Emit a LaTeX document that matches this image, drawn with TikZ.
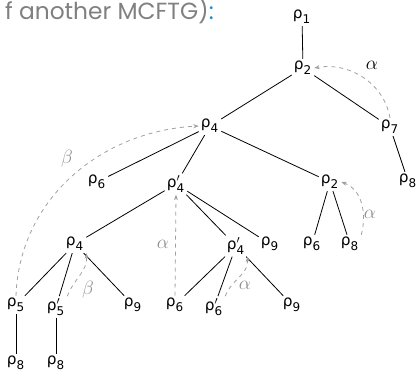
\documentclass[tikz,border=0pt]{standalone}
\usepackage{fontspec}
\setmainfont{DejaVu Sans}
\newfontfamily\headfont{Poppins}
\usetikzlibrary{arrows.meta}

\definecolor{headgray}{RGB}{128,128,128}
\definecolor{headblue}{RGB}{30,140,210}
\definecolor{arcgray}{RGB}{160,160,160}
\definecolor{labgray}{RGB}{140,140,140}

% rho with subscript, optional prime
\newcommand{\rh}[2][]{$\mbox{ρ}^{#1}_{\mbox{\fontsize{9}{10}\selectfont #2}}$}

\tikzset{
    tn/.style={inner sep=1.5pt, font=\fontsize{11.5}{13}\selectfont},
    edge/.style={draw, black, line width=0.6pt},
    link/.style={draw, arcgray, dashed, line width=0.6pt, -{Stealth[length=4pt, width=3pt]}},
    lab/.style={font=\fontsize{14}{16}\selectfont, text=labgray, inner sep=1pt}
}

\begin{document}
\begin{tikzpicture}[x=0.75pt, y=-0.75pt]
\useasboundingbox (0,0) rectangle (418,371);

% heading
\node[anchor=base east, inner sep=0pt, font=\headfont\fontsize{17.5}{20}\selectfont, text=headgray]
    (head) at (214,19) {f another MCFTG)\textcolor{headblue}{:}};

% nodes
\node[tn] (r1)  at (302,17)  {\rh{1}};
\node[tn] (r2)  at (303,68)  {\rh{2}};
\node[tn] (r7)  at (390,127) {\rh{7}};
\node[tn] (r8a) at (408,181) {\rh{8}};
\node[tn] (r4)  at (210,126) {\rh{4}};
\node[tn] (r6a) at (97,182)  {\rh{6}};
\node[tn] (r4p) at (176,184) {\rh[\prime]{4}};
\node[tn] (r2b) at (330,182) {\rh{2}};
\node[tn] (r6b) at (312,244) {\rh{6}};
\node[tn] (r8b) at (350,244) {\rh{8}};
\node[tn] (r4b) at (75,244)  {\rh{4}};
\node[tn] (r4q) at (236,246) {\rh[\prime]{4}};
\node[tn] (r9a) at (270,244) {\rh{9}};
\node[tn] (r5)  at (16,305)  {\rh{5}};
\node[tn] (r5p) at (56,307)  {\rh[\prime]{5}};
\node[tn] (r9b) at (133,305) {\rh{9}};
\node[tn] (r6c) at (175,305) {\rh{6}};
\node[tn] (r6p) at (214,307) {\rh[\prime]{6}};
\node[tn] (r9c) at (292,305) {\rh{9}};
\node[tn] (r8c) at (16,363)  {\rh{8}};
\node[tn] (r8d) at (56,363)  {\rh{8}};

% tree edges
\path[edge] (r1) -- (r2);
\path[edge] (r2) -- (r4);
\path[edge] (r2) -- (r7);
\path[edge] (r7) -- (r8a);
\path[edge] (r4) -- (r6a);
\path[edge] (r4) -- (r4p);
\path[edge] (r4) -- (r2b);
\path[edge] (r2b) -- (r6b);
\path[edge] (r2b) -- (r8b);
\path[edge] (r4p) -- (r4b);
\path[edge] (r4p) -- (r4q);
\path[edge] (r4p) -- (r9a);
\path[edge] (r4b) -- (r5);
\path[edge] (r4b) -- (r5p);
\path[edge] (r4b) -- (r9b);
\path[edge] (r4q) -- (r6c);
\path[edge] (r4q) -- (r6p);
\path[edge] (r4q) -- (r9c);
\path[edge] (r5) -- (r8c);
\path[edge] (r5p) -- (r8d);

% dashed links
\path[link] (r7.north) to[out=100, in=10] (r2.east);
\node[lab, text=black] (a1) at (372,65) {$\alpha$};
\path[link] (r5.north) to[out=88, in=183] (r4.west);
\node[lab] (b1) at (67,159) {$\beta$};
\path[link] (r8b.north east) to[out=75, in=-20] (r2b.east);
\node[lab] (a2) at (370,214) {$\alpha$};
\path[link] (r6c.north) -- (r4p.south);
\node[lab] (a3) at (163,244) {$\alpha$};
\path[link] (r5p.north east) to[out=70, in=-85] (r4b.south east);
\node[lab] (b2) at (88,290) {$\beta$};
\path[link] (r6p.north east) to[out=70, in=-85] (r4q.south east);
\node[lab] (a4) at (245,285) {$\alpha$};

\end{tikzpicture}
\end{document}
